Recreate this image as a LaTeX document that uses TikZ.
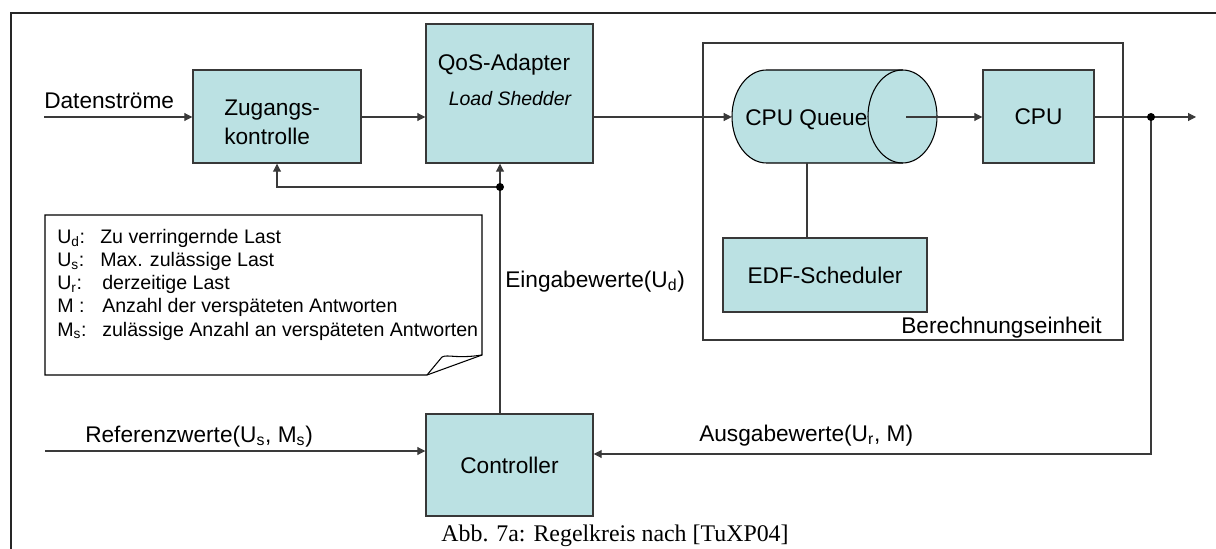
\documentclass[tikz,border=0pt]{standalone}
\usepackage{fontspec}
\setmainfont{Liberation Sans}
\newfontfamily\capfont{Liberation Serif}
\usetikzlibrary{arrows.meta}
\definecolor{boxfill}{HTML}{BBE1E3}
\definecolor{edge}{HTML}{383838}
\definecolor{wire}{HTML}{3A3A3A}
\newcommand\lsub[1]{\textsubscript{#1}}
\begin{document}
\begin{tikzpicture}[x=0.75pt,y=-0.75pt,
  blk/.style={draw=edge, line width=1.1pt, fill=boxfill, inner sep=0pt,
    font=\fontsize{17}{20}\selectfont},
  lbl/.style={inner sep=0pt, font=\fontsize{17}{20}\selectfont},
  notetxt/.style={inner sep=0pt, anchor=base west, font=\fontsize{14.7}{17}\selectfont},
  wirestyle/.style={draw=wire, line width=0.8pt},
  arr/.style={wirestyle, -{Triangle[length=6pt,width=6pt]}},
  dot/.style={fill=black}]
\useasboundingbox (0,0) rectangle (1216,549);

% outer frame (top and left edge)
\draw[line width=1.5pt, draw=black!85] (11,549) -- (11,13) -- (1216,13);

% processing unit
\node[draw=edge, line width=0.8pt, minimum width=315pt, minimum height=222.75pt, inner sep=0pt] (unit) at (913,191.5) {};
\node[lbl, anchor=base east] (unitlbl) at (1102,333) {Berechnungseinheit};

% blocks
\node[blk, minimum width=126pt, minimum height=69.75pt] (zug) at (277,116.5) {};
\node[lbl, anchor=base west] (zug1) at (224,116) {Zugangs-};
\node[lbl, anchor=base west] (zug2) at (224,145) {kontrolle};

\node[blk, minimum width=125.25pt, minimum height=104.25pt] (qos) at (509.5,93.5) {};
\node[lbl, anchor=base] (qos1) at (504,71) {QoS-Adapter};
\node[lbl, anchor=base, font=\fontsize{14.6}{17}\selectfont\itshape] (qos2) at (510,106) {Load Shedder};

\node[blk, minimum width=83.25pt, minimum height=69.75pt] (cpu) at (1038.5,116.5) {CPU};
\node[blk, minimum width=153pt, minimum height=55.5pt] (edf) at (825,275) {EDF-Scheduler};
\node[blk, minimum width=125.25pt, minimum height=76.5pt] (ctrl) at (509.5,465) {Controller};

% CPU queue drawn as a lying cylinder
\fill[boxfill] (902.5,70) -- (766.5,70)
  arc[start angle=90, end angle=270, x radius=25.875pt, y radius=34.875pt]
  -- (902.5,163)
  arc[start angle=-90, end angle=90, x radius=25.875pt, y radius=34.875pt] -- cycle;
\draw[draw=black, line width=0.8pt] (902.5,70) -- (766.5,70)
  arc[start angle=90, end angle=270, x radius=25.875pt, y radius=34.875pt]
  -- (902.5,163);
\draw[draw=black, line width=0.8pt] (902.5,116.5) ellipse[x radius=25.875pt, y radius=34.875pt];
\node[inner sep=0pt, minimum width=153.75pt, minimum height=69.75pt] (queue) at (834.5,116.5) {};
\node[lbl, anchor=base west] (queuelbl) at (745,126) {CPU Queue};

% legend note with folded corner
\draw[draw=black, line width=0.8pt] (45,215) -- (482,215) -- (482,355) -- (427,375) -- (45,375) -- cycle;
\draw[draw=black, line width=0.8pt] (427,375) -- (442,357) .. controls (448,354) and (456,359) .. (482,355);
\node[notetxt] (n1) at (57,243) {\makebox[32.25pt][l]{U\lsub{d}:}Zu verringernde Last};
\node[notetxt] (n2) at (57,266.3) {\makebox[32.25pt][l]{U\lsub{s}:}Max. zulässige Last};
\node[notetxt] (n3) at (57,289.5) {\makebox[33.75pt][l]{U\lsub{r}:}derzeitige Last};
\node[notetxt] (n4) at (57,312.8) {\makebox[33.75pt][l]{M :}Anzahl der verspäteten Antworten};
\node[notetxt] (n5) at (57,336) {\makebox[33.75pt][l]{M\lsub{s}:}zulässige Anzahl an verspäteten Antworten};

% signal labels
\node[lbl, anchor=base west] (datlbl) at (44,109) {Datenströme};
\node[lbl, anchor=base west] (einlbl) at (505,287) {Eingabewerte(U\lsub{d})};
\node[lbl, anchor=base west] (reflbl) at (85,442) {Referenzwerte(U\lsub{s}, M\lsub{s})};
\node[lbl, anchor=base west] (auslbl) at (699,441) {Ausgabewerte(U\lsub{r}, M)};
\node[inner sep=0pt, anchor=base, font=\capfont\fontsize{17.9}{21}\selectfont] (cap) at (615,541) {Abb. 7a: Regelkreis nach [TuXP04]};

% free ends and junctions
\coordinate (din) at (44,117);
\coordinate (qcore) at (906,117);
\coordinate (qbot) at (807,163);
\coordinate (out) at (1196,117);
\coordinate (j2) at (1151,117);
\coordinate (back) at (1151,454);
\coordinate (j1) at (500,187);
\coordinate (zfb) at (277,187);
\coordinate (rin) at (45,451);

% connectors
\draw[arr] (din) -- (din -| zug.west);
\draw[arr] (zug.east |- din) -- (din -| qos.west);
\draw[arr] (qos.east |- din) -- (din -| queue.west);
\draw[arr] (qcore) -- (qcore -| cpu.west);
\draw[arr] (cpu.east |- din) -- (out);
\draw[wirestyle] (qbot) -- (qbot |- edf.north);
\draw[arr] (j2) -- (back) -- (back -| ctrl.east);
\draw[arr] (j1 |- ctrl.north) -- (j1) -- (j1 |- qos.south);
\draw[arr] (j1) -- (zfb) -- (zfb |- zug.south);
\draw[arr] (rin) -- (rin -| ctrl.west);
\fill[dot] (j1) circle[radius=3pt];
\fill[dot] (j2) circle[radius=3pt];
\end{tikzpicture}
\end{document}
